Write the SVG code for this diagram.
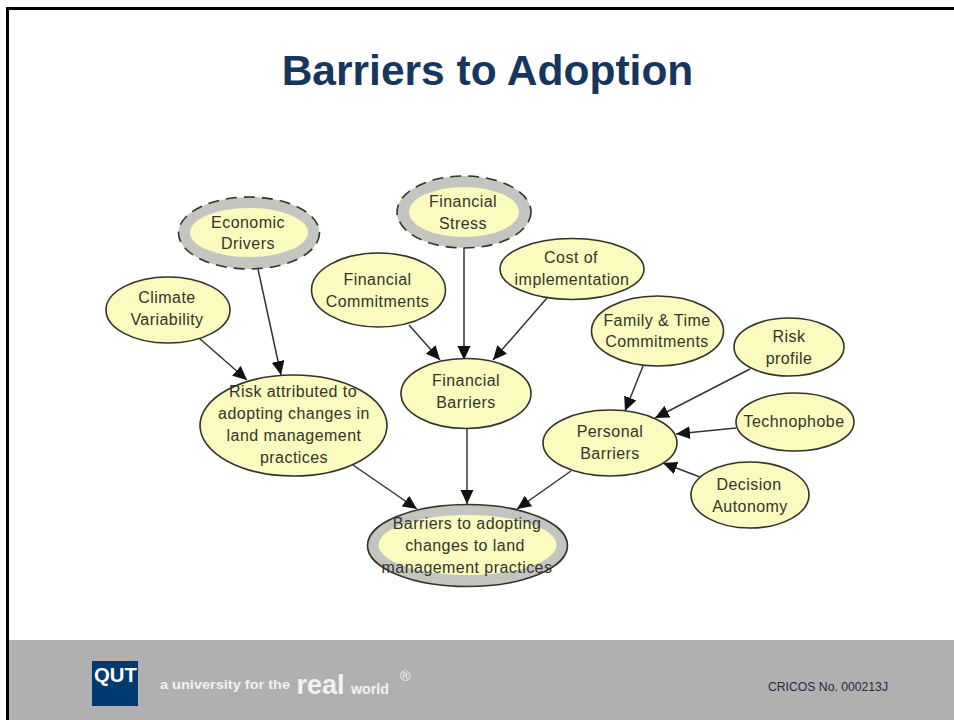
<svg xmlns="http://www.w3.org/2000/svg" width="954" height="720" viewBox="0 0 954 720">
<style>
text{font-family:"Liberation Sans",Arial,sans-serif}
.l{font-size:16px;letter-spacing:.45px;fill:#34342a;text-anchor:middle}
.n{fill:#fbfbc0;stroke:#33332a;stroke-width:1.6}
.o{fill:#c4c4c0;stroke:#33332a;stroke-width:1.6}
.i{fill:#fbfbc0}
.d{stroke-dasharray:11 7}
.c{fill:none;stroke:#33333a;stroke-width:1.5;marker-end:url(#a)}
.f{font-weight:bold;fill:#f2f2f2}
</style>
<defs><marker id="a" markerUnits="userSpaceOnUse" markerWidth="16" markerHeight="14" refX="14" refY="6.500" orient="auto"><path d="M0 0L14 6.500L0 13z" fill="#111"/></marker></defs>
<rect width="954" height="720" fill="#fff"/>
<path d="M7.500 720V8.500H954" fill="none" stroke="#000" stroke-width="3"/>
<rect x="9" y="640" width="945" height="80" fill="#b0b0b0"/>
<text x="487.500" y="85" font-size="42.500" font-weight="bold" fill="#17365d" text-anchor="middle">Barriers to Adoption</text>
<g id="connectors">
<path class="c" d="M258 269L281 375"/>
<path class="c" d="M199 338L247 380"/>
<path class="c" d="M464 248V360"/>
<path class="c" d="M409 325L440 360"/>
<path class="c" d="M547 298L493 360"/>
<path class="c" d="M643 366L625 411"/>
<path class="c" d="M750 369L655 418"/>
<path class="c" d="M736 428L676 434"/>
<path class="c" d="M700 477L663 463"/>
<path class="c" d="M467 428V504"/>
<path class="c" d="M353 465L417 509"/>
<path class="c" d="M571 471L517 509"/>
</g>
<g id="economic-drivers"><ellipse class="o d" cx="249" cy="233" rx="70.500" ry="36"/><ellipse class="i" cx="249" cy="232.500" rx="59" ry="24.500"/><text class="l" x="248" y="228">Economic</text><text class="l" x="248" y="249">Drivers</text></g>
<g id="financial-stress"><ellipse class="o d" cx="464" cy="212" rx="67" ry="36"/><ellipse class="i" cx="464" cy="212" rx="55" ry="25"/><text class="l" x="463" y="207">Financial</text><text class="l" x="463" y="229">Stress</text></g>
<g id="climate-variability"><ellipse class="n" cx="168" cy="310" rx="62" ry="33"/><text class="l" x="167" y="303">Climate</text><text class="l" x="167" y="325">Variability</text></g>
<g id="financial-commitments"><ellipse class="n" cx="378.500" cy="290" rx="67" ry="37"/><text class="l" x="377.500" y="285">Financial</text><text class="l" x="377.500" y="307">Commitments</text></g>
<g id="cost-of-implementation"><ellipse class="n" cx="572" cy="269" rx="72" ry="30.500"/><text class="l" x="571" y="263">Cost of</text><text class="l" x="572" y="285">implementation</text></g>
<g id="family-time"><ellipse class="n" cx="657.500" cy="331" rx="66" ry="35"/><text class="l" x="657" y="326">Family &amp; Time</text><text class="l" x="657" y="347">Commitments</text></g>
<g id="risk-profile"><ellipse class="n" cx="789" cy="347" rx="55" ry="29"/><text class="l" x="789" y="342">Risk</text><text class="l" x="789" y="364">profile</text></g>
<g id="technophobe"><ellipse class="n" cx="795" cy="422" rx="59" ry="29"/><text class="l" x="794" y="427">Technophobe</text></g>
<g id="decision-autonomy"><ellipse class="n" cx="750" cy="495" rx="59" ry="33"/><text class="l" x="749" y="490">Decision</text><text class="l" x="750" y="512">Autonomy</text></g>
<g id="personal-barriers"><ellipse class="n" cx="610" cy="443" rx="67" ry="33"/><text class="l" x="610" y="437">Personal</text><text class="l" x="610" y="459">Barriers</text></g>
<g id="financial-barriers"><ellipse class="n" cx="466" cy="393.500" rx="65" ry="35"/><text class="l" x="466" y="386">Financial</text><text class="l" x="466" y="408">Barriers</text></g>
<g id="risk-attributed"><ellipse class="n" cx="293.500" cy="425.500" rx="93.500" ry="50.500"/><text class="l" x="293" y="397">Risk attributed to</text><text class="l" x="294" y="419">adopting changes in</text><text class="l" x="294" y="441">land management</text><text class="l" x="294" y="463">practices</text></g>
<g id="barriers-to-adopting"><ellipse class="o" cx="467.500" cy="545.500" rx="100" ry="41"/><ellipse class="i" cx="467.500" cy="545" rx="89" ry="30"/><text class="l" x="467" y="529">Barriers to adopting</text><text class="l" x="465" y="551">changes to land</text><text class="l" x="467" y="573">management practices</text></g>
<g id="footer">
<rect x="92" y="661" width="46" height="45" fill="#003a70"/>
<text x="115.500" y="682" font-size="19.500" font-weight="bold" fill="#fff" text-anchor="middle" textLength="43" lengthAdjust="spacingAndGlyphs">QUT</text>
<text class="f" x="160" y="689" font-size="13.500" textLength="130" lengthAdjust="spacingAndGlyphs">a university for the</text>
<text class="f" x="296.500" y="694" font-size="27">real</text>
<text class="f" x="351" y="694" font-size="14" textLength="38" lengthAdjust="spacingAndGlyphs">world</text>
<text x="400" y="681" font-size="14" fill="#f2f2f2">®</text>
<text x="768" y="691" font-size="12" fill="#1f2a44" textLength="120" lengthAdjust="spacingAndGlyphs">CRICOS No. 000213J</text>
</g>
</svg>
